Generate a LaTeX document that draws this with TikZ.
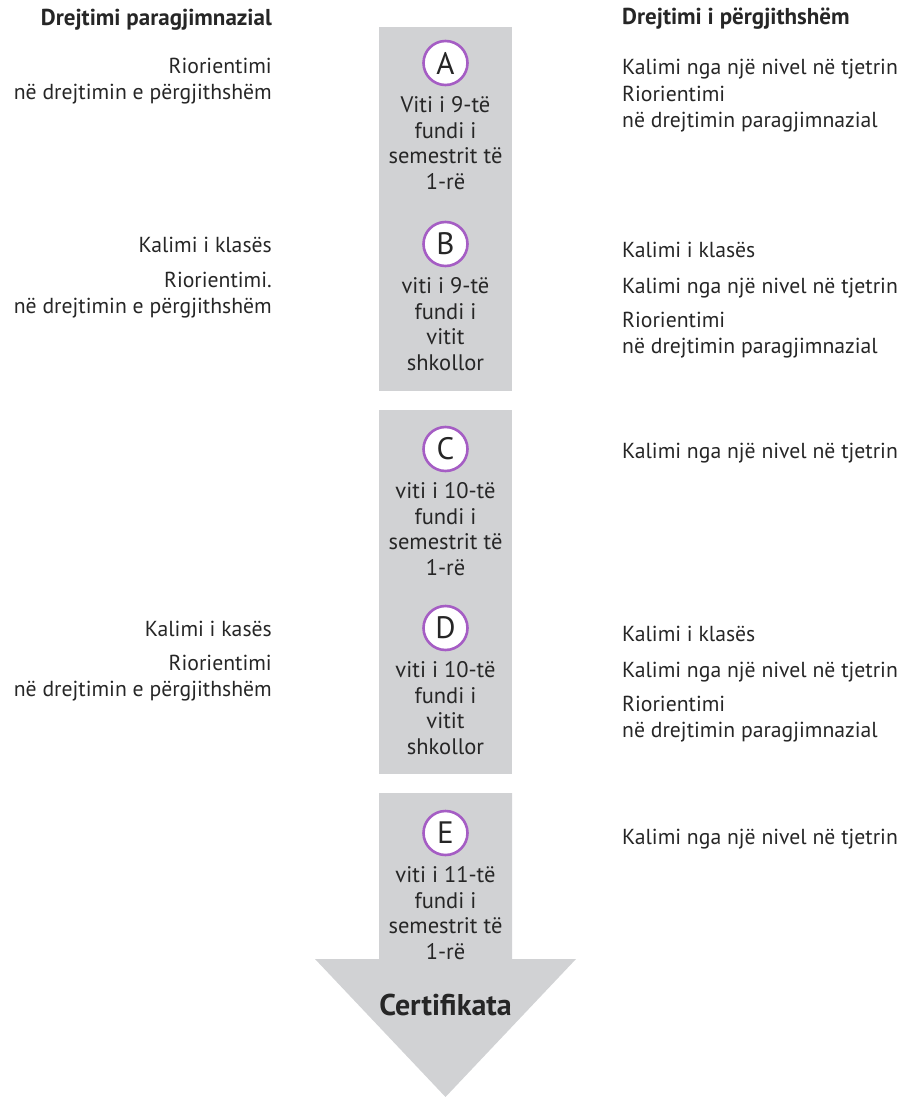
\documentclass[tikz,border=0pt]{standalone}
\usepackage{fontspec}
\setmainfont{PT Sans}
\usetikzlibrary{positioning}
\definecolor{colgray}{HTML}{D1D2D4}
\definecolor{ring}{HTML}{A55DC4}
\definecolor{ink}{HTML}{262626}
\tikzset{
  stage/.style={circle,draw=ring,line width=2.6pt,fill=white,minimum size=44pt,
    inner sep=0pt,text=ink,font=\fontsize{31}{31}\selectfont},
  when/.style={align=center,inner sep=0pt,text=ink,font=\fontsize{22.5}{25.5}\selectfont},
  lside/.style={anchor=base east,align=right,inner sep=0pt,text=ink,font=\fontsize{21.7}{26}\selectfont},
  rside/.style={anchor=base west,align=left,inner sep=0pt,text=ink,font=\fontsize{21.7}{26}\selectfont},
  head/.style={inner sep=0pt,text=ink,font=\bfseries\fontsize{23}{23}\selectfont}
}
\begin{document}
\begin{tikzpicture}[x=1pt,y=-1pt]
    \useasboundingbox (0,0) rectangle (901,1097);
    % grey column and arrow
    \fill[colgray] (379,27) rectangle (512,391);
    \fill[colgray] (379,410) rectangle (512,774);
    \fill[colgray] (379,793) -- (512,793) -- (512,959) -- (576,959)
        -- (445.5,1097) -- (315,959) -- (379,959) -- cycle;
    % stages
    \foreach \s/\y in {A/63,B/244,C/449,D/628,E/833}{
        \node[stage] (\s) at (445.5,\y) {\s};
    }
    \node[when,below=10pt of A] (wA) {Viti i 9-të\\fundi i\\semestrit të\\1-rë};
    \node[when,below=10pt of B] (wB) {viti i 9-të\\fundi i\\vitit\\shkollor};
    \node[when,below=10pt of C] (wC) {viti i 10-të\\fundi i\\semestrit të\\1-rë};
    \node[when,below=10pt of D] (wD) {viti i 10-të\\fundi i\\vitit\\shkollor};
    \node[when,below=10pt of E] (wE) {viti i 11-të\\fundi i\\semestrit të\\1-rë};
    \node[head,anchor=base,font=\bfseries\fontsize{30}{30}\selectfont] (cert) at (445.5,1015) {Certifikata};
    % left side
    \node[head,anchor=base east] (hl) at (272,26) {Drejtimi paragjimnazial};
    \node[lside] (la1) at (272,100) {Riorientimi\\në drejtimin e përgjithshëm};
    \node[lside] (lb1) at (272,252) {Kalimi i klasës};
    \node[lside] (lb2) at (272,313) {Riorientimi.\\në drejtimin e përgjithshëm};
    \node[lside] (ld1) at (272,636) {Kalimi i kasës};
    \node[lside] (ld2) at (272,696) {Riorientimi\\në drejtimin e përgjithshëm};
    % right side
    \node[head,anchor=base west] (hr) at (622,25) {Drejtimi i përgjithshëm};
    \node[rside] (ra1) at (622,75) {Kalimi nga një nivel në tjetrin};
    \node[rside] (ra2) at (622,128) {Riorientimi\\në drejtimin paragjimnazial};
    \node[rside] (rb1) at (622,257) {Kalimi i klasës};
    \node[rside] (rb2) at (622,293) {Kalimi nga një nivel në tjetrin};
    \node[rside] (rb3) at (622,353) {Riorientimi\\në drejtimin paragjimnazial};
    \node[rside] (rc1) at (622,458) {Kalimi nga një nivel në tjetrin};
    \node[rside] (rd1) at (622,641) {Kalimi i klasës};
    \node[rside] (rd2) at (622,677) {Kalimi nga një nivel në tjetrin};
    \node[rside] (rd3) at (622,737) {Riorientimi\\në drejtimin paragjimnazial};
    \node[rside] (re1) at (622,844) {Kalimi nga një nivel në tjetrin};
\end{tikzpicture}
\end{document}
